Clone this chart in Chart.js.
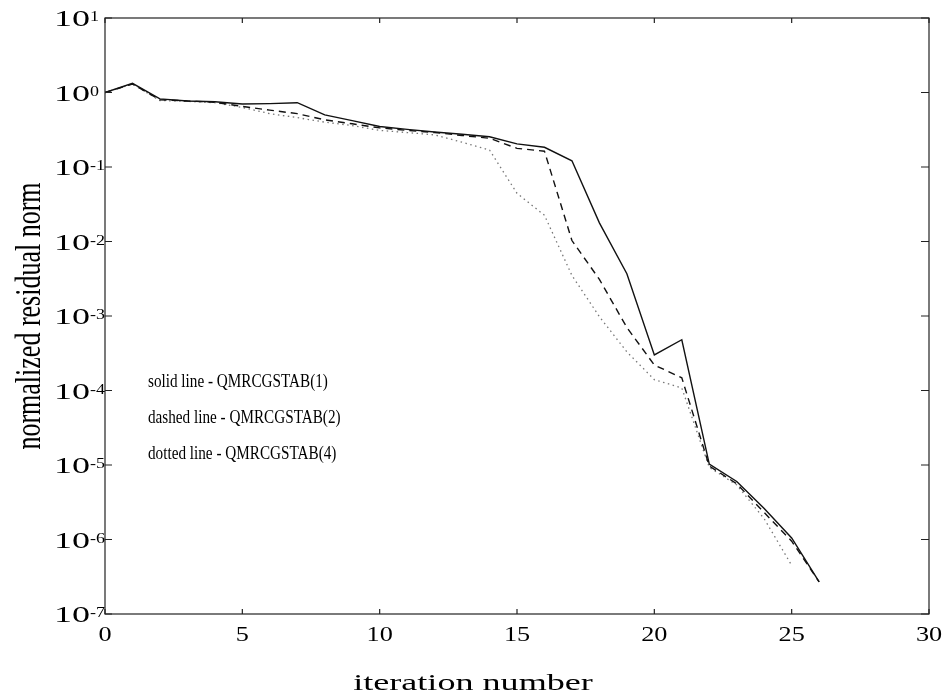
<!DOCTYPE html>
<html lang="en">
    <head>
        <meta charset="utf-8" />
        <script src="https://cdn.jsdelivr.net/npm/chart.js@4.4.1/dist/chart.umd.min.js"></script>
        <title>QMRCGSTAB convergence</title>
        <style>
            body { margin: 0; background: #fff; }
            canvas { display: block; }
        </style>
    </head>
    <body>
        <canvas id="grafico" width="945" height="695"></canvas>
        <script>
            // residual history, one value per iteration
            const iteraciones = [0, 1, 2, 3, 4, 5, 6, 7, 8, 9, 10, 11, 12, 13, 14, 15, 16, 17, 18, 19, 20, 21, 22, 23, 24, 25, 26];
            const solida = [1.0, 1.33, 0.82, 0.77, 0.75, 0.70, 0.71, 0.73, 0.50, 0.42, 0.35, 0.32, 0.295, 0.275, 0.255, 0.204, 0.184, 0.121, 0.0178, 0.0037, 0.0003, 0.00048, 1.03e-5, 6.0e-6, 2.6e-6, 1.05e-6, 2.7e-7];
            const rayada = [1.0, 1.30, 0.80, 0.77, 0.74, 0.65, 0.58, 0.52, 0.43, 0.38, 0.335, 0.31, 0.29, 0.265, 0.243, 0.178, 0.163, 0.0103, 0.0031, 0.0007, 0.00022, 0.000148, 9.7e-6, 5.6e-6, 2.3e-6, 9.5e-7, 2.7e-7];
            const punteada = [1.0, 1.30, 0.78, 0.76, 0.73, 0.63, 0.52, 0.46, 0.40, 0.36, 0.31, 0.29, 0.27, 0.215, 0.169, 0.0443, 0.0225, 0.0035, 0.00098, 0.00033, 0.00014, 0.000108, 9.3e-6, 5.4e-6, 1.9e-6, 4.5e-7];
            const ticksX = [0, 5, 10, 15, 20, 25, 30];
            const exponentesY = [1, 0, -1, -2, -3, -4, -5, -6, -7];
            const leyenda = ["solid line - QMRCGSTAB(1)", "dashed line - QMRCGSTAB(2)", "dotted line - QMRCGSTAB(4)"];

            const FUENTE = '"Liberation Serif", "Times New Roman", serif';

            // text drawn with its own horizontal scale, like the printed figure
            function texto(ctx, s, x, y, px, sx, align) {
                ctx.save();
                ctx.font = px + "px " + FUENTE;
                const w = ctx.measureText(s).width * sx;
                const izq = align === "center" ? x - w / 2 : align === "right" ? x - w : x;
                ctx.translate(izq, y);
                ctx.scale(sx, 1);
                ctx.textAlign = "left";
                ctx.textBaseline = "alphabetic";
                ctx.fillStyle = "#000";
                ctx.fillText(s, 0, 0);
                ctx.restore();
                return w;
            }

            const marco = {
                id: "marco",
                afterDraw(chart) {
                    const ctx = chart.ctx;
                    const a = chart.chartArea;
                    const sx = chart.scales.x;
                    const sy = chart.scales.y;

                    ctx.save();
                    ctx.strokeStyle = "#222";
                    ctx.lineWidth = 1.2;
                    ctx.strokeRect(a.left, a.top, a.right - a.left, a.bottom - a.top);

                    // tick marks point inwards on all four sides
                    ctx.beginPath();
                    ticksX.forEach((v) => {
                        const px = sx.getPixelForValue(v);
                        ctx.moveTo(px, a.bottom); ctx.lineTo(px, a.bottom - 5);
                        ctx.moveTo(px, a.top); ctx.lineTo(px, a.top + 5);
                    });
                    exponentesY.forEach((e) => {
                        const py = sy.getPixelForValue(Math.pow(10, e));
                        ctx.moveTo(a.left, py); ctx.lineTo(a.left + 7, py);
                        ctx.moveTo(a.right, py); ctx.lineTo(a.right - 8, py);
                    });
                    ctx.stroke();
                    ctx.restore();

                    // x tick labels
                    ticksX.forEach((v) => {
                        texto(ctx, String(v), sx.getPixelForValue(v), a.bottom + 27, 21, 1.25, "center");
                    });

                    // y tick labels: 10 with a raised exponent, left aligned
                    exponentesY.forEach((e) => {
                        const py = sy.getPixelForValue(Math.pow(10, e));
                        const sup = e < 0 ? "-" + Math.abs(e) : String(e);
                        const w = texto(ctx, "10", 54, py + 8.2, 24, 1.5, "left");
                        texto(ctx, sup, 54 + w, py + 3.4, 15, 1.2, "left");
                    });

                    // axis titles
                    texto(ctx, "iteration number", 473, 690, 23, 1.57, "center");
                    ctx.save();
                    ctx.translate(40, (a.top + a.bottom) / 2);
                    ctx.rotate(-Math.PI / 2);
                    ctx.scale(1, 1.35);
                    texto(ctx, "normalized residual norm", 0, 0, 26, 1.0, "center");
                    ctx.restore();

                    // line key
                    leyenda.forEach((s, i) => {
                        texto(ctx, s, 148, 387 + i * 36, 19, 0.8, "left");
                    });
                }
            };

            const puntos = (ys) => ys.map((v, i) => ({ x: iteraciones[i], y: v }));

            new Chart(document.getElementById("grafico").getContext("2d"), {
                type: "line",
                data: {
                    datasets: [
                        { label: leyenda[0], data: puntos(solida), borderColor: "#111", borderWidth: 1.4 },
                        { label: leyenda[1], data: puntos(rayada), borderColor: "#111", borderWidth: 1.4, borderDash: [7, 5] },
                        { label: leyenda[2], data: puntos(punteada), borderColor: "#777", borderWidth: 1.3, borderDash: [1.5, 3.5] }
                    ]
                },
                options: {
                    responsive: false,
                    animation: false,
                    devicePixelRatio: 1,
                    layout: { padding: { left: 105, right: 16, top: 18, bottom: 81 } },
                    elements: {
                        line: { tension: 0, borderJoinStyle: "miter", fill: false },
                        point: { radius: 0 }
                    },
                    scales: {
                        x: { type: "linear", min: 0, max: 30, display: false },
                        y: { type: "logarithmic", min: 1e-7, max: 10, display: false }
                    },
                    plugins: {
                        legend: { display: false },
                        tooltip: { enabled: false }
                    }
                },
                plugins: [marco]
            });
        </script>
    </body>
</html>
